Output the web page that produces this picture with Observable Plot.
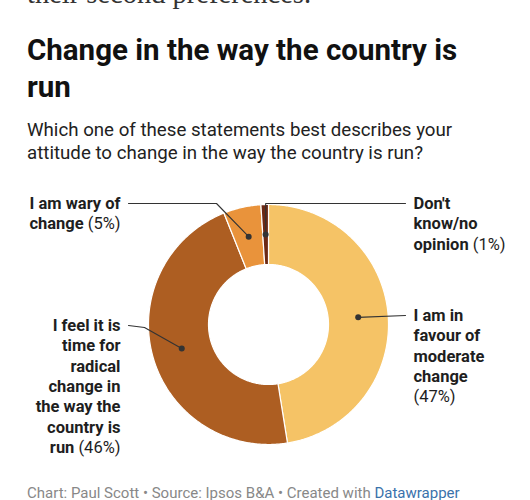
<!DOCTYPE html>
<html><head><meta charset="utf-8">
<script src="https://cdn.jsdelivr.net/npm/d3@7"></script>
<script src="https://cdn.jsdelivr.net/npm/@observablehq/plot@0.6"></script>
<style>
html,body{margin:0;padding:0;background:#fff}
body{font-family:Roboto,sans-serif;width:530px;height:500px;overflow:hidden;position:relative}
#pre{position:absolute;left:27px;top:-20px;font-family:"Liberation Serif",serif;font-size:28.5px;line-height:28px;color:#333;white-space:nowrap}
#title{position:absolute;left:27px;top:32px;font-size:29.5px;font-weight:700;line-height:36.5px;color:#111;white-space:nowrap}
#sub{position:absolute;left:27px;top:118.5px;font-size:18.7px;line-height:23.5px;color:#222;white-space:nowrap}
#chart{position:absolute;left:0;top:180px}
#foot{position:absolute;left:27px;top:484.5px;font-size:15px;line-height:17px;color:#888;white-space:nowrap}
#foot span{color:#3a72ab}
</style></head>
<body>
<div id="pre">their second preferences.</div>
<div id="title">Change in the way the country is<br>run</div>
<div id="sub">Which one of these statements best describes your<br>attitude to change in the way the country is run?</div>
<div id="chart"></div>
<div id="foot">Chart: Paul Scott • Source: Ipsos B&amp;A • Created with <span>Datawrapper</span></div>
<script>
// ---- data ----
const categories = ["I am in favour of moderate change",
  "I feel it is time for radical change in the way the country is run",
  "I am wary of change",
  "Don't know/no opinion"];
const values = [47, 46, 5, 1];
const colors = ["#f5c366", "#ad5e22", "#e9933b", "#6c2914"];
const labelLines = [
  ["I am in", "favour of", "moderate", "change", ""],
  ["I feel it is", "time for", "radical", "change in", "the way the", "country is", "run"],
  ["I am wary of", "change"],
  ["Don't", "know/no", "opinion"]
];
const pctLabels = ["(47%)", "(46%)", "(5%)", "(1%)"];

// ---- annotation layout (chart units = px, origin at donut centre, y up) ----
const layout = [
  {side: 1, labelY: 9, elbowX: null},
  {side: -1, labelY: -1, elbowX: -124, elbowY: -3},
  {side: -1, labelY: 121, elbowX: -52},
  {side: 1, labelY: 121, elbowX: "dot"}
];
const W = 530, H = 290, CX = 268, CY = 144;
const R1 = 120, R0 = 60, RD = 90, FS = 16.5, LH = 20.4;
const leaderEnd = {"-1": -140, "1": 137};
const textX = {"-1": -148, "1": 145};

const total = d3.sum(values);
let acc = 0;
const slices = categories.map((c, i) => {
  const a0 = acc / total * 2 * Math.PI; acc += values[i];
  const a1 = acc / total * 2 * Math.PI;
  return {c, i, a0, a1, mid: (a0 + a1) / 2};
});
const polar = (r, a) => [r * Math.sin(a), r * Math.cos(a)];

const ring = [];
for (const s of slices) {
  const n = Math.max(4, Math.ceil((s.a1 - s.a0) / 0.01));
  const pts = [];
  for (let k = 0; k <= n; k++) pts.push(polar(R1, s.a0 + (s.a1 - s.a0) * k / n));
  for (let k = n; k >= 0; k--) pts.push(polar(R0, s.a0 + (s.a1 - s.a0) * k / n));
  pts.push(pts[0]);
  pts.forEach(([x, y]) => ring.push({cat: s.c, x, y}));
}

const dots = slices.map(s => { const [x, y] = polar(RD, s.mid); return {cat: s.c, x, y}; });
const leaders = [];
slices.forEach((s, i) => {
  const L = layout[i], d = dots[i];
  leaders.push({id: i, x: d.x, y: d.y});
  if (L.elbowX === "dot") leaders.push({id: i, x: d.x, y: L.labelY});
  else if (L.elbowX != null) leaders.push({id: i, x: L.elbowX, y: L.elbowY ?? L.labelY});
  leaders.push({id: i, x: leaderEnd[L.side], y: L.labelY});
});

const ctx = document.createElement("canvas").getContext("2d");
const measure = (t, w) => { ctx.font = `${w} ${FS}px Roboto`; return ctx.measureText(t).width; };

const texts = [];
slices.forEach((s, i) => {
  const L = layout[i], lines = labelLines[i], xt = textX[L.side];
  lines.forEach((t, k) => {
    const y = L.labelY - k * LH;
    const last = k === lines.length - 1;
    if (!last) { texts.push({side: L.side, w: 700, x: xt, y, t}); return; }
    if (L.side < 0) {
      if (t) texts.push({side: -1, w: 700, x: xt - measure(" " + pctLabels[i], 400), y, t});
      texts.push({side: -1, w: 400, x: xt, y, t: pctLabels[i]});
    } else {
      if (t) texts.push({side: 1, w: 700, x: xt, y, t});
      texts.push({side: 1, w: 400, x: t ? xt + measure(t, 700) + measure(" ", 400) : xt, y, t: pctLabels[i]});
    }
  });
});
const tmark = (side, w) => Plot.text(texts.filter(d => d.side === side && d.w === w),
  {x: "x", y: "y", text: "t", textAnchor: side < 0 ? "end" : "start", fontWeight: w, fontSize: FS, fill: "#1e1e1e"});

const chart = Plot.plot({
  width: W, height: H, margin: 0,
  x: {domain: [-CX, W - CX], axis: null},
  y: {domain: [-(H - CY), CY], axis: null},
  color: {domain: categories, range: colors},
  style: {fontFamily: "Roboto, sans-serif", background: "white"},
  marks: [
    Plot.line(ring, {x: "x", y: "y", z: "cat", fill: "cat", stroke: "white", strokeWidth: 1.2, curve: "linear"}),
    Plot.line(leaders, {x: "x", y: "y", z: "id", stroke: "#333", strokeWidth: 1.1, curve: "linear"}),
    Plot.dot(dots, {x: "x", y: "y", r: 3, fill: "#333", stroke: "none"}),
    tmark(-1, 700), tmark(-1, 400), tmark(1, 700), tmark(1, 400)
  ]
});
document.getElementById("chart").appendChild(chart);
</script>
</body></html>
